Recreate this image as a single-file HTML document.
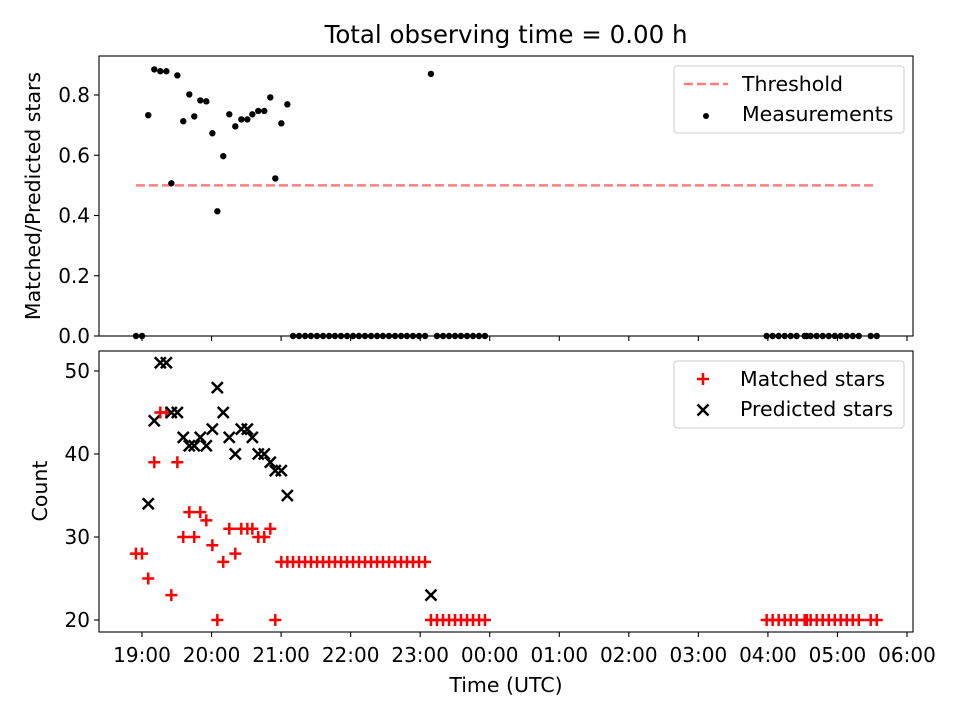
<!DOCTYPE html>
<html><head><meta charset="utf-8"><style>
body{margin:0;background:#fff}
svg{display:block;font-family:"DejaVu Sans","Liberation Sans",sans-serif}
</style></head><body>
<svg id="chart" width="960" height="720" viewBox="0 0 960 720">
<text x="506" y="43" font-size="24.5" text-anchor="middle">Total observing time = 0.00 h</text>
<g id="topPanel"></g>
<g id="botPanel"></g>
<text x="506" y="692" font-size="20.5" text-anchor="middle">Time (UTC)</text>
<text transform="translate(40,196) rotate(-90)" font-size="20.5" text-anchor="middle">Matched/Predicted stars</text>
<text transform="translate(47,491) rotate(-90)" font-size="20.5" text-anchor="middle">Count</text>
<g font-size="20.5">
<rect x="674" y="66" width="230" height="67" rx="3" fill="#fff" fill-opacity="0.8" stroke="#ccc"/>
<line x1="684" x2="728" y1="84" y2="84" stroke="rgba(255,0,0,0.5)" stroke-width="2.5" stroke-dasharray="9,4"/>
<text x="742" y="91">Threshold</text>
<circle cx="706" cy="116" r="3" fill="#000"/>
<text x="742" y="121">Measurements</text>
</g>
<g font-size="20.5">
<rect x="674" y="361" width="230" height="67" rx="3" fill="#fff" fill-opacity="0.8" stroke="#ccc"/>
<path d="M697,379H709M703,373V385" stroke="#f00" stroke-width="2.5"/>
<text x="740" y="386">Matched stars</text>
<path d="M697.5,404.5L708.5,415.5M697.5,415.5L708.5,404.5" stroke="#000" stroke-width="2.5"/>
<text x="740" y="416">Predicted stars</text>
</g>
</svg>
<script>
// minutes since 18:00 UTC
const times=[54.8,60,65.4,70.6,75.8,81.0,85.3,90.5,95.6,100.8,105.1,110.3,115.5,120.7,125.0,130.1,135.3,140.5,145.7,150.9,155.2,160.3,165.5,170.7,175.0,180.2,185.4,
190.3,195.5,200.7,205.8,211.0,216.2,221.4,226.5,231.7,236.9,242.1,247.2,252.4,257.6,262.8,267.9,273.1,278.3,283.5,288.6,293.8,299.0,304.2,
309.3,314.5,319.7,324.9,330.1,335.2,340.4,345.6,350.8,355.9,
598.9,604.1,609.3,614.5,619.7,624.8,631.7,633.5,636.9,642.1,647.3,652.5,657.7,662.8,668.0,673.2,678.4,688.7,693.9];
const matched=[28,28,25,39,45,45,23,39,30,33,30,33,32,29,20,27,31,28,31,31,31,30,30,31,20,27,27,
27,27,27,27,27,27,27,27,27,27,27,27,27,27,27,27,27,27,27,27,27,27,27,
20,20,20,20,20,20,20,20,20,20,
20,20,20,20,20,20,20,20,20,20,20,20,20,20,20,20,20,20,20];
const predicted=[null,null,34,44,51,51,45,45,42,41,41,42,41,43,48,45,42,40,43,43,42,40,40,39,38,38,35,
null,null,null,null,null,null,null,null,null,null,null,null,null,null,null,null,null,null,null,null,null,null,null,
23,null,null,null,null,null,null,null,null,null,
null,null,null,null,null,null,null,null,null,null,null,null,null,null,null,null,null,null,null];
const ratio=[0,0,0.733,0.885,0.879,0.879,0.507,0.865,0.713,0.802,0.729,0.782,0.779,0.673,0.414,0.597,0.736,0.696,0.719,0.719,0.736,0.747,0.747,0.792,0.523,0.706,0.769,
0,0,0,0,0,0,0,0,0,0,0,0,0,0,0,0,0,0,0,0,0,0,0,
0.87,0,0,0,0,0,0,0,0,0,
0,0,0,0,0,0,0,0,0,0,0,0,0,0,0,0,0,0,0];
const threshold=0.5;
const xTickLabels=["19:00","20:00","21:00","22:00","23:00","00:00","01:00","02:00","03:00","04:00","05:00","06:00"];
const ratioTicks=[0.0,0.2,0.4,0.6,0.8];
const countTicks=[20,30,40,50];

const NS="http://www.w3.org/2000/svg";
function mk(tag,attrs,parent,txt){const e=document.createElementNS(NS,tag);for(const k in attrs)e.setAttribute(k,attrs[k]);if(txt!==undefined)e.textContent=txt;parent.appendChild(e);return e;}
const X=m=>142+(m-60)/60*69.545;
const Yr=v=>336-v*301.25;
const Yc=v=>620-(v-20)*8.3;
const gTop=document.getElementById('topPanel'),gBot=document.getElementById('botPanel');
const L=99,R=913;

const th=mk('line',{x1:X(times[0]),x2:X(times[times.length-1]),y1:Yr(threshold),y2:Yr(threshold),stroke:'rgba(255,0,0,0.5)','stroke-width':2.5,'stroke-dasharray':'9,4'},gTop);


times.forEach((t,i)=>{
  const c=mk('circle',{cx:X(t),cy:Yr(ratio[i]),r:3.2,fill:'#000'},gTop);
  
  
});
times.forEach((t,i)=>{
  const x=X(t),y=Yc(matched[i]);
  const p=mk('path',{d:`M${x-6},${y}H${x+6}M${x},${y-6}V${y+6}`,stroke:'#f00','stroke-width':2.5},gBot);
  
  
  if(predicted[i]!==null){
    const y2=Yc(predicted[i]);
    const q=mk('path',{d:`M${x-5.5},${y2-5.5}L${x+5.5},${y2+5.5}M${x-5.5},${y2+5.5}L${x+5.5},${y2-5.5}`,stroke:'#000','stroke-width':2.5},gBot);
    
    
  }
});
[[gTop,56,336],[gBot,351,632]].forEach(([g,t,b],pi)=>{
  const f=mk('rect',{x:L,y:t,width:R-L,height:b-t,fill:'none',stroke:'#000','stroke-width':1.1},g);
  
  
  xTickLabels.forEach((lab,k)=>{
    const x=142+69.545*k;
    mk('line',{x1:x,x2:x,y1:b,y2:b+5,stroke:'#000','stroke-width':1.1},g);
    if(pi===1){
      const tx=mk('text',{x:x,y:b+30,'font-size':20,'text-anchor':'middle'},g,lab);
      
      
    }
  });
});
ratioTicks.forEach(v=>{
  const y=Yr(v);
  mk('line',{x1:L-5,x2:L,y1:y,y2:y,stroke:'#000','stroke-width':1.1},gTop);
  const tx=mk('text',{x:L-9,y:y+7,'font-size':20,'text-anchor':'end'},gTop,v.toFixed(1));
  
  
});
countTicks.forEach(v=>{
  const y=Yc(v);
  mk('line',{x1:L-5,x2:L,y1:y,y2:y,stroke:'#000','stroke-width':1.1},gBot);
  const tx=mk('text',{x:L-9,y:y+7,'font-size':20,'text-anchor':'end'},gBot,String(v));
  
  
});
</script>
</body></html>
